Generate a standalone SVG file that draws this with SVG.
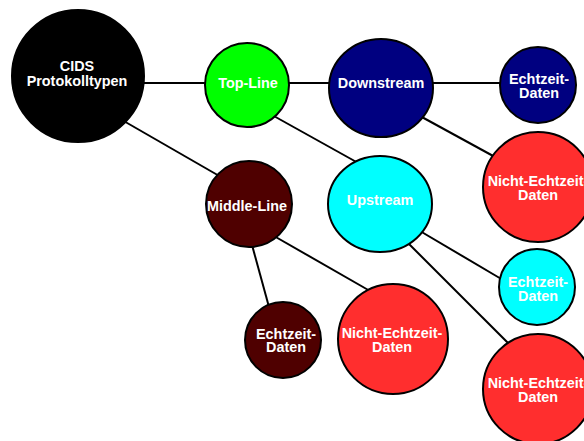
<svg xmlns="http://www.w3.org/2000/svg" width="584" height="441" viewBox="0 0 584 441">
  <style>
    .node { stroke: #000; stroke-width: 2; }
    .edge { stroke: #000; stroke-width: 2; fill: none; }
    .lbl { font-family: "Liberation Sans", Arial, sans-serif; font-weight: bold; font-size: 14.4px; fill: #fff; text-anchor: middle; }
    .black { fill: #000; }
    .green { fill: #00ff00; }
    .navy { fill: #000080; }
    .cyan { fill: #00ffff; }
    .maroon { fill: #4f0000; }
    .red { fill: #ff2e2e; }
  </style>
  <rect width="584" height="441" fill="#fff"/>

  <!-- connectors -->
  <g id="connectors">
    <line class="edge" x1="140" y1="83" x2="208" y2="83"/>
    <line class="edge" x1="286" y1="83" x2="332" y2="83"/>
    <line class="edge" x1="430" y1="83" x2="502" y2="83"/>
    <line class="edge" x1="122" y1="120" x2="221" y2="177"/>
    <line class="edge" x1="272" y1="115" x2="360" y2="164"/>
    <line class="edge" x1="420" y1="116" x2="495" y2="157"/>
    <line class="edge" x1="420" y1="231" x2="503" y2="280"/>
    <line class="edge" x1="407" y1="242" x2="510" y2="345"/>
    <line class="edge" x1="252" y1="245" x2="269" y2="307"/>
    <line class="edge" x1="274" y1="236" x2="370" y2="291"/>
  </g>

  <g id="cids">
    <circle class="node black" cx="78" cy="76" r="66"/>
    <text class="lbl" x="77" y="71">CIDS</text>
    <text class="lbl" x="77" y="86">Protokolltypen</text>
  </g>

  <g id="top-line">
    <circle class="node green" cx="247" cy="85" r="42"/>
    <text class="lbl" x="248" y="88">Top-Line</text>
  </g>

  <g id="downstream">
    <ellipse class="node navy" cx="381" cy="88" rx="52" ry="49"/>
    <text class="lbl" x="381" y="88">Downstream</text>
  </g>

  <g id="downstream-echtzeit">
    <circle class="node navy" cx="538" cy="85" r="38"/>
    <text class="lbl" x="539" y="84">Echtzeit-</text>
    <text class="lbl" x="539" y="98">Daten</text>
  </g>

  <g id="downstream-nicht-echtzeit">
    <circle class="node red" cx="538" cy="187" r="55"/>
    <text class="lbl" x="538" y="186">Nicht-Echtzeit-</text>
    <text class="lbl" x="538" y="200">Daten</text>
  </g>

  <g id="upstream">
    <ellipse class="node cyan" cx="380" cy="204" rx="52" ry="48"/>
    <text class="lbl" x="380" y="205">Upstream</text>
  </g>

  <g id="upstream-echtzeit">
    <circle class="node cyan" cx="537" cy="287" r="38"/>
    <text class="lbl" x="538" y="287">Echtzeit-</text>
    <text class="lbl" x="538" y="301">Daten</text>
  </g>

  <g id="upstream-nicht-echtzeit">
    <circle class="node red" cx="538" cy="389" r="55"/>
    <text class="lbl" x="538" y="388">Nicht-Echtzeit-</text>
    <text class="lbl" x="538" y="402">Daten</text>
  </g>

  <g id="middle-line">
    <circle class="node maroon" cx="249" cy="204" r="43"/>
    <text class="lbl" x="247" y="211">Middle-Line</text>
  </g>

  <g id="middle-echtzeit">
    <circle class="node maroon" cx="283" cy="340" r="38"/>
    <text class="lbl" x="286" y="339">Echtzeit-</text>
    <text class="lbl" x="286" y="352">Daten</text>
  </g>

  <g id="middle-nicht-echtzeit">
    <circle class="node red" cx="393" cy="339" r="55"/>
    <text class="lbl" x="392" y="338">Nicht-Echtzeit-</text>
    <text class="lbl" x="392" y="352">Daten</text>
  </g>
</svg>
